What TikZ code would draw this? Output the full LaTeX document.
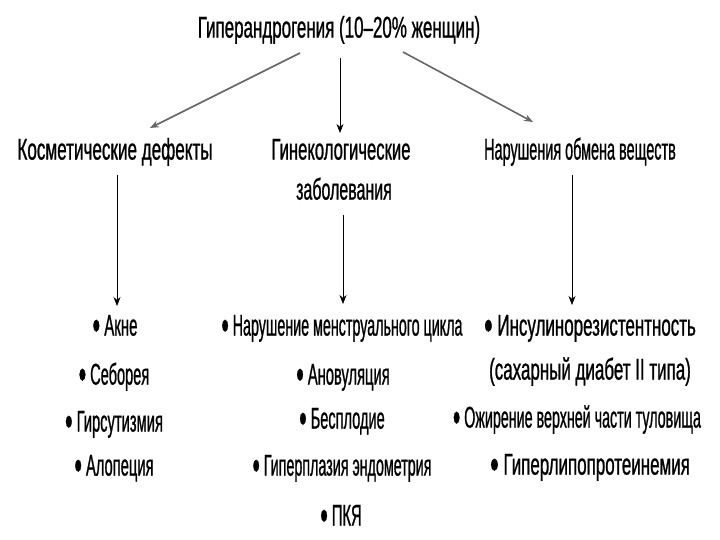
\documentclass[tikz,border=0pt]{standalone}
\usepackage{fontspec}
\setmainfont{Liberation Sans}[FakeStretch=0.467,FakeBold=0.7]
\usetikzlibrary{arrows.meta,calc}
\newcommand\hsq[2]{\scalebox{#1}[1]{#2}}
\newcommand\bul{\raisebox{-0.15em}{\scalebox{1.45}{•}}}
\begin{document}
\begin{tikzpicture}[x=1pt,y=-1pt,
  txt/.style={inner sep=0pt,text height=0.72em,text depth=0.2em,yshift=-5pt,font=\fontsize{30}{34}\selectfont},
  arr/.style={-{Stealth[length=9pt,width=7pt]}, line width=0.7pt, draw=black},
  darr/.style={-{Stealth[length=9pt,width=7pt]}, line width=1.6pt, draw=gray!80!black}]
\useasboundingbox (0,0) rectangle (720,540);
\node[txt] (t) at (339,30) {\hsq{1.21}{Гиперандрогения (10–20\% женщин)}};
\node[txt] (k) at (115,152) {\hsq{1.22}{Косметические дефекты}};
\node[txt] (g1) at (341,152) {\hsq{1.19}{Гинекологические}};
\node[txt] (g2) at (344,192) {\hsq{1.14}{заболевания}};
\node[txt] (n) at (580,152) {\hsq{1.03}{Нарушения обмена веществ}};
% left column
\node[txt] (a1) at (115,328) {\hsq{1.07}{\bul{} Акне}};
\node[txt] (a2) at (114,377) {\hsq{1.04}{\bul{} Себорея}};
\node[txt] (a3) at (114,424) {\hsq{1.05}{\bul{} Гирсутизмия}};
\node[txt] (a4) at (114,468) {\hsq{1.05}{\bul{} Алопеция}};
% middle column
\node[txt] (m1) at (342,328) {\hsq{1.02}{\bul{} Нарушение менструального цикла}};
\node[txt] (m2) at (343,377) {\hsq{1.05}{\bul{} Ановуляция}};
\node[txt] (m3) at (342,421) {\hsq{1.04}{\bul{} Бесплодие}};
\node[txt] (m4) at (342,468) {\hsq{1.02}{\bul{} Гиперплазия эндометрия}};
\node[txt] (m5) at (341,518) {\hsq{1.05}{\bul{} ПКЯ}};
% right column
\node[txt] (r1) at (590,328) {\hsq{1.21}{\bul{} Инсулинорезистентность}};
\node[txt] (r2) at (590,372) {\hsq{1.21}{(сахарный диабет II типа)}};
\node[txt] (r3) at (577,420) {\hsq{1.02}{\bul{} Ожирение верхней части туловища}};
\node[txt] (r4) at (590,467) {\hsq{1.21}{\bul{} Гиперлипопротеинемия}};
% connectors
\draw[darr] ($(t.center)+(-39,18)$) -- ($(k.center)+(35,-29)$);
\draw[arr] ($(t.center)+(1,23)$) -- ($(g1.center)+(-1,-24)$);
\draw[darr] ($(t.center)+(64,17)$) -- ($(n.center)+(-47,-35)$);
\draw[arr] ($(k.center)+(2,18)$) -- ($(a1.center)+(2,-27)$);
\draw[arr] ($(g2.center)+(-1,18)$) -- ($(m1.center)+(1,-29)$);
\draw[arr] ($(n.center)+(-8,18)$) -- ($(r1.center)+(-18,-28)$);
\end{tikzpicture}
\end{document}
